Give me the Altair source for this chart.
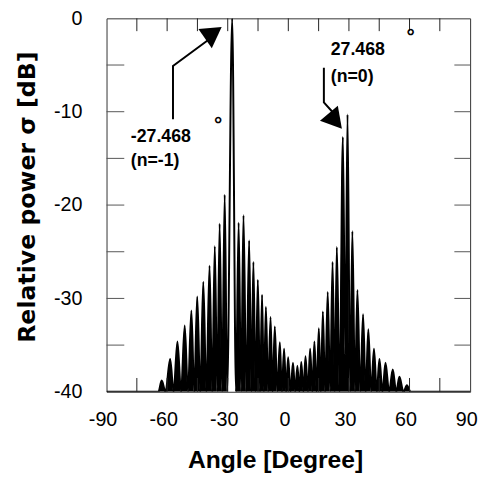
import altair as alt
import pandas as pd

# ---- data ----
# lobe maxima (angle in degree, relative power in dB)
peak_angle = [-62.7, -58.5, -54.9, -51.3, -48.0, -45.1, -42.1, -39.0, -36.4, -34.0, -31.5,
              -27.8,
              -24.6, -22.2, -19.4, -17.3, -15.1, -13.0, -11.1, -8.8, -6.7, -4.2, -2.1, -0.1,
              2.3, 4.5, 6.4, 8.5, 10.8, 12.9, 15.1, 17.1, 19.5, 21.9, 24.0,
              27.0, 29.3,
              31.7, 34.2, 37.0, 39.6, 42.4, 45.1, 48.1, 51.7, 55.0, 58.7]
peak_db = [-38.8, -36.5, -34.6, -32.9, -31.3, -29.8, -28.2, -26.5, -24.4, -22.0, -18.9,
           0.0,
           -21.9, -21.1, -23.8, -26.1, -28.0, -29.6, -30.9, -32.0, -33.0, -34.7, -35.4, -36.3,
           -36.9, -37.2, -36.8, -36.2, -35.4, -34.6, -33.2, -31.4, -29.3, -26.1, -24.5,
           -12.7, -10.3,
           -22.8, -29.1, -31.7, -33.3, -35.4, -36.5, -36.9, -37.6, -38.4, -39.3]
# minima between the lobes
null_angle = [-64.3, -60.8, -56.8, -53.1, -49.7, -46.6, -43.6, -40.6, -37.7, -35.2, -32.8,
              -30.3, -25.9,
              -23.4, -20.8, -18.3, -16.2, -14.0, -12.1, -10.0, -7.8, -5.5, -3.2, -1.1,
              1.1, 3.4, 5.5, 7.5, 9.7, 11.9, 14.0, 16.1, 18.2, 20.7, 23.0, 25.4,
              28.2, 30.6,
              33.0, 35.6, 38.3, 41.0, 43.8, 46.6, 49.9, 53.4, 57.0, 60.5]
null_db = [-40] * 36 + [-36.0] + [-40] * 11
outline_only = [-27.8]          # main lobe drawn as an outline (white inside)

x_labels = [-90, -60, -30, 0, 30, 60, 90]
y_labels = [-40, -30, -20, -10, 0]
x_minor = [-75, -60, -45, -30, -15, 0, 15, 30, 45, 60, 75]
y_minor = [-35, -30, -25, -20, -15, -10, -5]

label_text = ["-27.468", "(n=-1)", "27.468", "(n=0)"]
label_x = [-78.0, -78.0, 21.0, 21.0]
label_y = [-13.2, -15.8, -3.9, -6.8]
deg_x = [-34.8, 60.6]
deg_y = [-11.4, -2.0]

arrow_id = [1, 1, 1, 2, 2, 2]
arrow_x = [-57.1, -57.1, -39.5, 17.6, 17.6, 23.0]
arrow_y = [-10.8, -5.1, -2.3, -5.3, -9.0, -10.3]
head_x = [-37.1, 23.3]
head_y = [-1.55, -11.0]
head_angle = [55, 140]

# ---- tables ----
rows = [(-90.0, -40.0, -40.0)]
for i in range(len(peak_angle)):
    rows.append((null_angle[i], null_db[i], null_db[i]))
    fill = -40.0 if peak_angle[i] in outline_only else peak_db[i]
    rows.append((peak_angle[i], peak_db[i], fill))
rows.append((null_angle[-1], null_db[-1], null_db[-1]))
rows.append((90.0, -40.0, -40.0))
series = pd.DataFrame(rows, columns=["angle", "db", "dbfill"])

labels = pd.DataFrame({"t": label_text, "x": label_x, "y": label_y})
degs = pd.DataFrame({"t": ["°", "°"], "x": deg_x, "y": deg_y})
arrows = pd.DataFrame({"id": arrow_id, "x": arrow_x, "y": arrow_y, "o": list(range(len(arrow_x)))})
heads = pd.DataFrame({"x": head_x, "y": head_y, "a": head_angle})
xt = pd.DataFrame({"v": x_minor})
yt = pd.DataFrame({"v": y_minor})

FONT = "Liberation Sans"
xs = alt.Scale(domain=[-90, 90], nice=False, zero=False)
ys = alt.Scale(domain=[-40, 0], nice=False, zero=False)

x_axis = alt.Axis(
    values=x_labels, ticks=False, domain=False, grid=False,
    labelExpr="'' + datum.value",
    labelFont=FONT, labelFontSize=20, labelColor="black", labelPadding=18,
    labelOffset=-4, labelFlush=False,
    title="Angle [Degree]", titleFont=FONT, titleFontSize=25, titleFontWeight="bold",
    titleColor="black", titleX=171, titleY=77, titleAlign="center",
    titleBaseline="alphabetic")
y_axis = alt.Axis(
    values=y_labels, ticks=False, domain=False, grid=False,
    labelExpr="'' + datum.value",
    labelFont=FONT, labelFontSize=20, labelColor="black", labelPadding=25,
    labelFlush=False,
    title="Relative power σ [dB]", titleFont="DejaVu Sans", titleFontSize=24,
    titleFontWeight="bold", titleColor="black", titleAngle=-90,
    titleX=-73, titleY=181, titleAlign="center", titleBaseline="alphabetic")


def X(field):
    return alt.X(field, scale=xs, axis=x_axis)


def Y(field):
    return alt.Y(field, scale=ys, axis=y_axis)


area = alt.Chart(series).mark_area(color="black", interpolate="monotone", clip=True).encode(
    x=X("angle:Q"), y=Y("dbfill:Q"), y2=alt.datum(-40))

line = alt.Chart(series).mark_line(color="black", strokeWidth=2.0, interpolate="monotone",
                                   clip=True).encode(x=X("angle:Q"), y=Y("db:Q"))

top_ticks = alt.Chart(xt).mark_rule(color="#222", strokeWidth=1).encode(
    x=X("v:Q"), y=alt.value(0), y2=alt.value(13))
bot_ticks = alt.Chart(xt).mark_rule(color="#222", strokeWidth=1).encode(
    x=X("v:Q"), y=alt.value(379), y2=alt.value(365))
left_ticks = alt.Chart(yt).mark_rule(color="#555", strokeWidth=1).encode(
    y=Y("v:Q"), x=alt.value(0), x2=alt.value(18))
right_ticks = alt.Chart(yt).mark_rule(color="#555", strokeWidth=1).encode(
    y=Y("v:Q"), x=alt.value(369), x2=alt.value(353))

texts = alt.Chart(labels).mark_text(font=FONT, fontSize=18, fontWeight="bold", align="left",
                                    baseline="alphabetic", color="black").encode(
    x=X("x:Q"), y=Y("y:Q"), text="t:N")
deg_text = alt.Chart(degs).mark_text(font=FONT, fontSize=21, fontWeight="bold", align="center",
                                     baseline="middle", color="black").encode(
    x=X("x:Q"), y=Y("y:Q"), text="t:N")

arrow_lines = alt.Chart(arrows).mark_line(color="black", strokeWidth=2).encode(
    x=X("x:Q"), y=Y("y:Q"), detail="id:N", order="o:Q")
arrow_heads = alt.Chart(heads).mark_point(shape="triangle-up", filled=True, color="black",
                                          size=560, opacity=1).encode(
    x=X("x:Q"), y=Y("y:Q"), angle=alt.Angle("a:Q", scale=None))

chart = alt.layer(area, line, top_ticks, bot_ticks, left_ticks, right_ticks,
                  texts, deg_text, arrow_lines, arrow_heads).properties(
    width=369, height=379,
    padding={"left": 100, "top": 7, "right": 8, "bottom": 84},
    autosize=alt.AutoSizeParams(type="none"),
).configure_view(stroke="#333", strokeWidth=1)

chart.save("out.html", embed_options={"renderer": "svg", "actions": False})
